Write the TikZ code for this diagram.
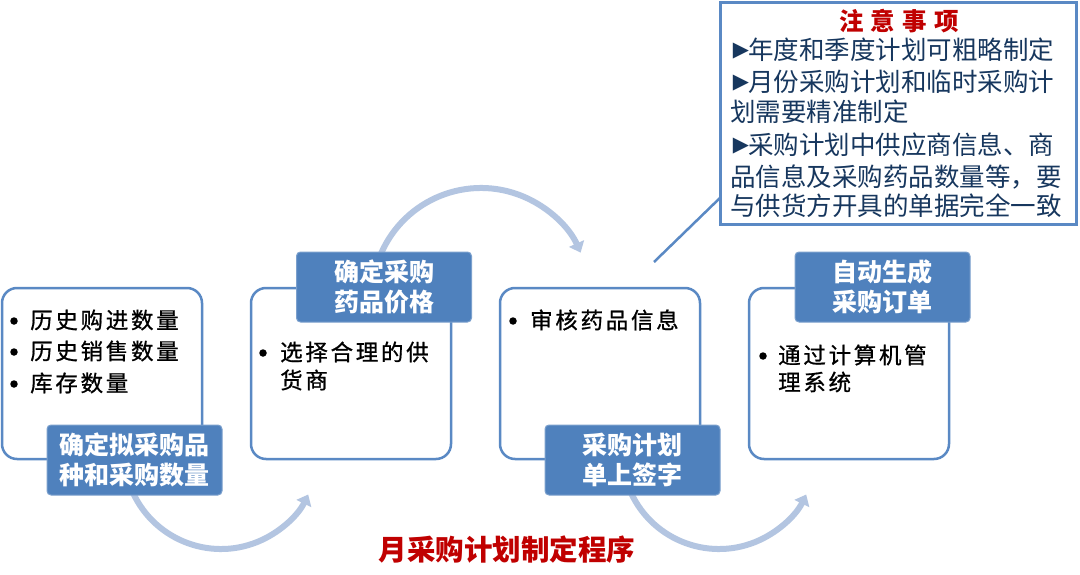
\documentclass[tikz,border=0pt]{standalone}
\usepackage{fontspec}
\setmainfont{Noto Sans CJK SC}
\newfontfamily\symf{DejaVu Sans}
\usetikzlibrary{arrows.meta}
\definecolor{boxline}{HTML}{5A89C4}
\definecolor{labelfill}{HTML}{4F81BD}
\definecolor{arcblue}{HTML}{B3C5E1}
\definecolor{navy}{HTML}{17375E}
\definecolor{darkred}{HTML}{C00000}
\begin{document}
\begin{tikzpicture}[x=1pt,y=-1pt,
 stagebox/.style={draw=boxline, line width=2.5pt, fill=white, rounded corners=15pt, minimum width=200pt, minimum height=171pt, inner sep=0pt},
 stagelabel/.style={fill=labelfill, draw=labelfill!75!white, line width=1pt, rounded corners=4pt, minimum width=175pt, minimum height=70pt, text=white, font=\fontsize{25}{30}\selectfont\bfseries, align=center, inner sep=0pt},
 itemtext/.style={anchor=west, inner sep=0pt, font=\fontsize{22.5}{26}\selectfont\addfontfeature{LetterSpace=12,FakeBold=0.8}},
 bulletdot/.style={circle, fill=black, inner sep=0pt, minimum size=7.5pt},
 flowarc/.style={draw=arcblue, line width=6pt, -{Triangle[length=10pt,width=16pt]}},
 notebox/.style={draw=boxline, line width=3pt, fill=white, minimum width=356pt, minimum height=222pt, inner sep=0pt},
 notetext/.style={anchor=west, inner sep=0pt, text=navy, font=\fontsize{25.5}{30}\selectfont},
 notebullet/.style={inner sep=0pt, text=navy, font=\symf\fontsize{21}{21}\selectfont},
]
\useasboundingbox[fill=white] (0,0) rectangle (1080,575);

% flow arcs (drawn first, partly hidden by labels)
\coordinate (arcAstart) at (380.7,254.4);
\coordinate (arcBstart) at (133.1,493.0);
\coordinate (arcCstart) at (631.1,493.0);
\draw[flowarc] (arcAstart) arc[start angle=157, end angle=24, radius=109pt];
\draw[flowarc] (arcBstart) arc[start angle=205, end angle=334, radius=97pt];
\draw[flowarc] (arcCstart) arc[start angle=205, end angle=334, radius=97pt];

% connector to note
\coordinate (lineA) at (654,262);
\coordinate (noteattach) at (722,196);
\draw[boxline, line width=2.5pt] (lineA) -- (noteattach);

% note box
\node[notebox] (note) at (898.5,113.5) {};
\node[inner sep=0pt, text=darkred, font=\fontsize{24.5}{26}\selectfont\bfseries] (notetitle) at (899,21) {注\hspace{7pt}意\hspace{7pt}事\hspace{7pt}项};
\node[notebullet] (nb1) at (741,51) {▶};
\node[notetext] (nt1) at (748,50) {年度和季度计划可粗略制定};
\node[notebullet] (nb2) at (741,83) {▶};
\node[notetext] (nt2) at (748,82) {月份采购计划和临时采购计};
\node[notetext] (nt3) at (730,112) {划需要精准制定};
\node[notebullet] (nb4) at (741,146) {▶};
\node[notetext] (nt4) at (748,145) {采购计划中供应商信息、商};
\node[notetext] (nt5) at (730,177) {品信息及采购药品数量等，要};
\node[notetext] (nt6) at (730,206) {与供货方开具的单据完全一致};

% stage boxes
\node[stagebox] (box1) at (102,373.5) {};
\node[stagebox] (box2) at (351,373.5) {};
\node[stagebox] (box3) at (600,373.5) {};
\node[stagebox] (box4) at (849,373.5) {};

% box 1 items
\node[bulletdot] (b1a) at (14,321) {};
\node[itemtext] (t1a) at (30,320) {历史购进数量};
\node[bulletdot] (b1b) at (14,352) {};
\node[itemtext] (t1b) at (30,351) {历史销售数量};
\node[bulletdot] (b1c) at (14,384) {};
\node[itemtext] (t1c) at (30,383) {库存数量};
% box 2 items
\node[bulletdot] (b2a) at (263,353) {};
\node[itemtext] (t2a) at (280,352) {选择合理的供};
\node[itemtext] (t2b) at (280,380) {货商};
% box 3 items
\node[bulletdot] (b3a) at (513,321) {};
\node[itemtext] (t3a) at (530,320) {审核药品信息};
% box 4 items
\node[bulletdot] (b4a) at (763,356) {};
\node[itemtext] (t4a) at (778,355) {通过计算机管};
\node[itemtext] (t4b) at (778,382) {理系统};

% labels
\node[stagelabel] (lab1) at (134.5,460) {确定拟采购品\\种和采购数量};
\node[stagelabel] (lab2) at (384,287) {确定采购\\药品价格};
\node[stagelabel] (lab3) at (632.5,460) {采购计划\\单上签字};
\node[stagelabel] (lab4) at (882.5,287) {自动生成\\采购订单};

% caption
\node[inner sep=0pt, text=darkred, font=\fontsize{28.5}{30}\selectfont\bfseries] (caption) at (507,550) {月采购计划制定程序};
\end{tikzpicture}
\end{document}
